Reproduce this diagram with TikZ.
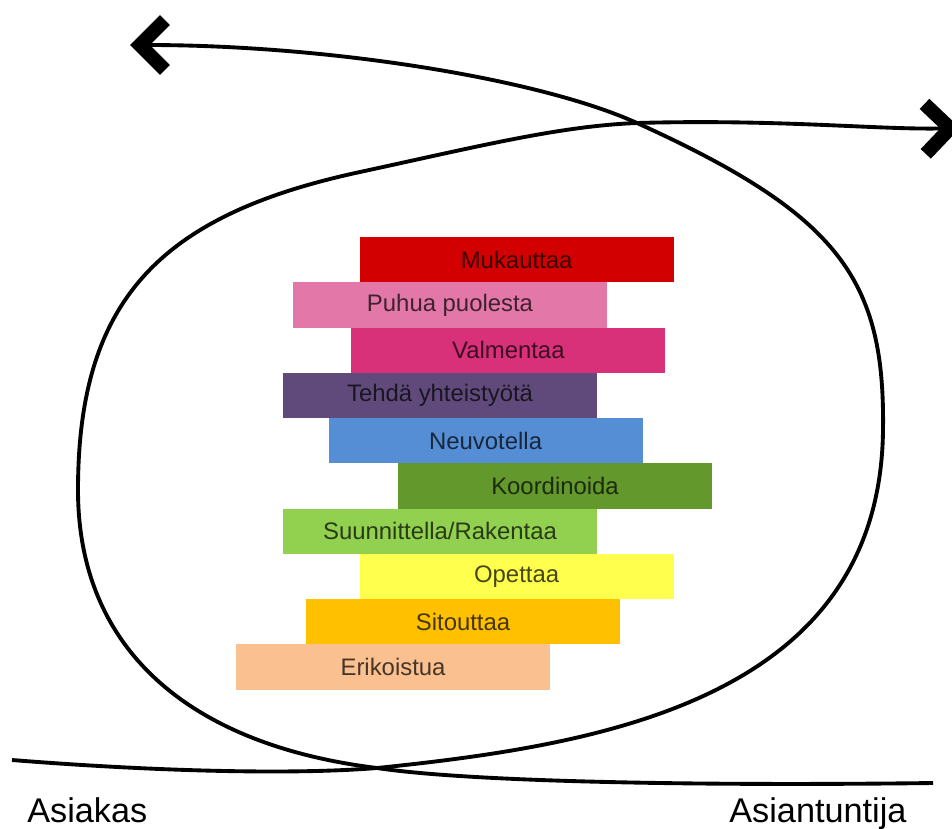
\documentclass[tikz,border=0pt]{standalone}
\usepackage{fontspec}
\setmainfont{Liberation Sans}
\usetikzlibrary{arrows.meta}

\definecolor{mukred}{HTML}{D20000}
\definecolor{puhpink}{HTML}{E377A8}
\definecolor{valrose}{HTML}{D9307A}
\definecolor{tehpurple}{HTML}{604A7B}
\definecolor{neublue}{HTML}{558ED5}
\definecolor{koogreen}{HTML}{62982C}
\definecolor{suulime}{HTML}{92D050}
\definecolor{opeyellow}{HTML}{FFFF4D}
\definecolor{sitorange}{HTML}{FFC000}
\definecolor{eritan}{HTML}{FAC090}

\tikzset{
  actbox/.style={fill=#1, text=#1!28!black, anchor=north west, inner sep=0pt,
    minimum width=6.28cm, minimum height=0.906cm, font=\fontsize{13.6}{16}\selectfont},
  bigline/.style={line width=2.2pt},
  chevron/.style={-{Straight Barb[length=0.5cm, width=1.0cm, line width=0.28cm]}},
  sidelabel/.style={anchor=base west, inner sep=0pt, font=\fontsize{19.5}{22}\selectfont}
}

\begin{document}
\begin{tikzpicture}[x=0.02cm,y=-0.02cm]
\useasboundingbox (0,0) rectangle (952,828);

\draw[bigline,chevron] (12,760) .. controls (150,771) and (290,775) .. (377,768)
  .. controls (600,745) and (880,700) .. (883,430)
  .. controls (885,280) and (840,215) .. (637,123)
  .. controls (540,79) and (330,45) .. (130,45);
\draw[bigline,chevron] (933,783) .. controls (700,786) and (470,782) .. (377,768)
  .. controls (190,745) and (78,650) .. (78,490)
  .. controls (78,300) and (160,215) .. (360,172)
  .. controls (480,146) and (560,126) .. (637,123)
  .. controls (780,119) and (880,130) .. (960,128);

\node[actbox=mukred] (muk) at (359.3,236.7) {Mukauttaa};
\node[actbox=puhpink] (puh) at (292.7,281.95) {Puhua puolesta};
\node[actbox=valrose] (val) at (351,327.2) {Valmentaa};
\node[actbox=tehpurple] (teh) at (282.7,372.45) {Tehdä yhteistyötä};
\node[actbox=neublue] (neu) at (328.3,417.7) {Neuvotella};
\node[actbox=koogreen] (koo) at (397.7,462.95) {Koordinoida};
\node[actbox=suulime] (suu) at (282.7,508.2) {Suunnittella/Rakentaa};
\node[actbox=opeyellow] (ope) at (359.3,553.45) {Opettaa};
\node[actbox=sitorange] (sit) at (305.7,598.7) {Sitouttaa};
\node[actbox=eritan] (eri) at (235.7,643.95) {Erikoistua};

\node[sidelabel] (asiakas) at (27,822) {Asiakas};
\node[sidelabel] (asiantuntija) at (729,822) {Asiantuntija};
\end{tikzpicture}
\end{document}
